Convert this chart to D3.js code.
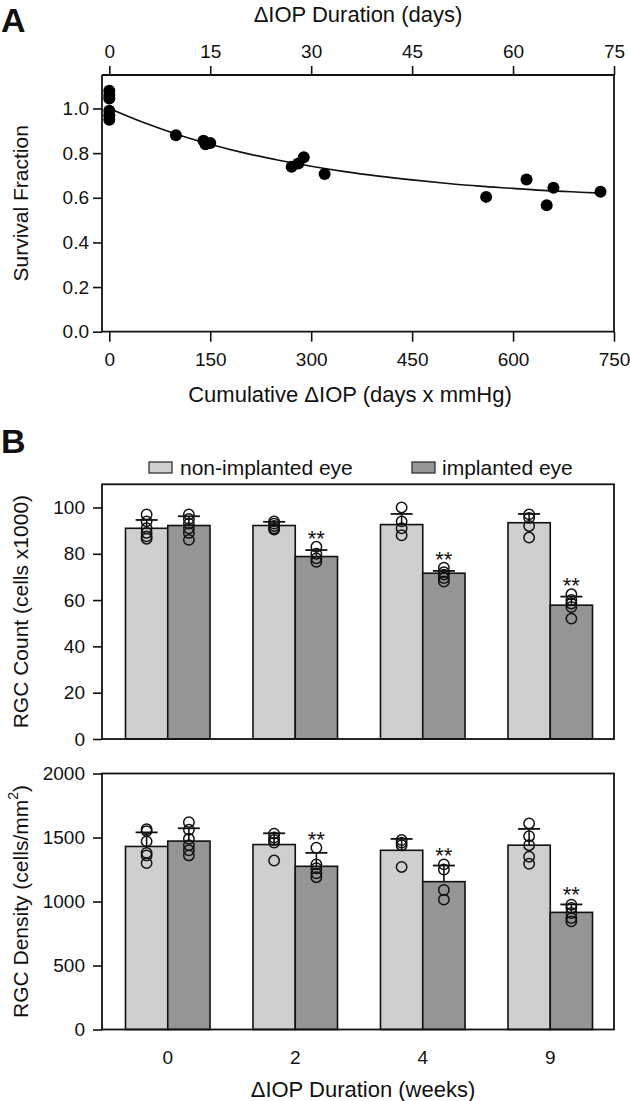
<!DOCTYPE html>
<html><head><meta charset="utf-8">
<script src="https://cdn.jsdelivr.net/npm/d3@7/dist/d3.min.js"></script>
<style>
html,body{margin:0;padding:0;background:#fff;}
svg{display:block;}
text{font-family:"Liberation Sans",Arial,sans-serif;fill:#111;}
</style></head>
<body>
<svg id="c" width="630" height="1101"></svg>
<script>
// ---------- Panel A data ----------
const survX = [0,0,0,0,0,0, 99, 140,143,150, 271,281,289,320, 560,620,650,660,730];
const survY = [1.08,1.06,1.045,0.99,0.97,0.95, 0.88, 0.855,0.84,0.845, 0.739,0.754,0.781,0.707, 0.604,0.682,0.567,0.645,0.627];
const fitX = [0,50,100,150,200,250,300,350,400,450,500,550,600,650,700,730];
const fitY = [1.0,0.938,0.885,0.840,0.801,0.769,0.741,0.717,0.697,0.680,0.665,0.652,0.642,0.632,0.625,0.621];
const xTicksA = [0,150,300,450,600,750];
const topTicksA = [0,15,30,45,60,75];
const yTicksA = [0,0.2,0.4,0.6,0.8,1.0];

// ---------- Panel B data ----------
const weeks = ["0","2","4","9"];
const series = ["non-implanted eye","implanted eye"];
const countMean = {light:[91.0,92.2,92.6,93.4], dark:[92.2,78.8,71.6,57.8]};
const countSD   = {light:[3.6,1.6,4.6,3.8],    dark:[4.0,2.8,1.0,3.7]};
const countPts = {
  light:[[97,94,91,89,87.5,86.5],[94,93,92,91,90.5],[100,94,91,88],[97,95.5,92,87]],
  dark: [[97,95,93,91,89,86],[83,80,78,76.5],[74,72,71,69.5,68],[62.5,60,58.5,57,52]]
};
const densMean = {light:[1430,1445,1400,1440], dark:[1472,1275,1155,915]};
const densSD   = {light:[110,88,89,127],       dark:[100,105,126,62]};
const densPts = {
  light:[[1565,1550,1470,1380,1360,1300],[1530,1500,1480,1460,1320],[1480,1460,1440,1270],[1610,1510,1440,1350,1295]],
  dark: [[1620,1560,1490,1440,1400,1360],[1420,1290,1260,1220,1190],[1290,1250,1090,1015],[975,950,910,870,845]]
};
const signif = [false,true,true,true];
const countTicks = [0,20,40,60,80,100];
const densTicks = [0,500,1000,1500,2000];

const svg = d3.select("#c");
const FS_T = 19, FS_Y = 21, FS_X = 22;
const col = {light:"#cfcfcf", dark:"#959595"};

// ================= Panel A =================
const A = {l:102, r:614, t:75, b:331.7, x0:109.3};
const xA = d3.scaleLinear().domain([0,750]).range([A.x0, A.r]);
const xAtop = d3.scaleLinear().domain([0,75]).range([A.x0, A.r]);
const yA = d3.scaleLinear().domain([0,1.15]).range([A.b, A.t]);
const gA = svg.append("g");

function styleAxis(g){
  g.select(".domain").remove();
  g.selectAll(".tick line").attr("stroke","#111").attr("stroke-width",1.6);
  g.selectAll(".tick text").attr("font-size",FS_T).attr("font-family","Liberation Sans, Arial, sans-serif").attr("fill","#111");
}
gA.append("g").attr("transform",`translate(0,${A.b})`)
  .call(d3.axisBottom(xA).tickValues(xTicksA).tickSize(10).tickPadding(11)).call(styleAxis);
gA.append("g").attr("transform",`translate(0,${A.t})`)
  .call(d3.axisTop(xAtop).tickValues(topTicksA).tickSize(9).tickPadding(8)).call(styleAxis);
gA.append("g").attr("transform",`translate(${A.l},0)`)
  .call(d3.axisLeft(yA).tickValues(yTicksA).tickSize(9).tickPadding(4).tickFormat(d3.format(".1f"))).call(styleAxis);
const fr = [[A.l,A.t,A.r,A.t],[A.l,A.b,A.r,A.b],[A.l,A.t,A.l,A.b],[A.r,A.t,A.r,A.b]];
gA.selectAll("line.fr").data(fr).join("line").attr("class","fr")
  .attr("x1",d=>d[0]).attr("y1",d=>d[1]).attr("x2",d=>d[2]).attr("y2",d=>d[3])
  .attr("stroke","#111").attr("stroke-width",1.8);
const fitData = fitX.map((x,i)=>[x,fitY[i]]);
gA.append("path").datum(fitData)
  .attr("d", d3.line().x(d=>xA(d[0])).y(d=>yA(d[1])).curve(d3.curveMonotoneX))
  .attr("fill","none").attr("stroke","#111").attr("stroke-width",1.6);
gA.selectAll("circle.s").data(survX.map((x,i)=>[x,survY[i]])).join("circle")
  .attr("cx",d=>xA(d[0])).attr("cy",d=>yA(d[1])).attr("r",6).attr("fill","#000");
gA.append("text").attr("x",358).attr("y",22).attr("text-anchor","middle").attr("font-size",FS_X)
  .text("\u0394IOP Duration (days)");
gA.append("text").attr("x",350).attr("y",402).attr("text-anchor","middle").attr("font-size",FS_X)
  .text("Cumulative \u0394IOP (days x mmHg)");
gA.append("text").attr("transform",`translate(28,${(A.t+A.b)/2}) rotate(-90)`).attr("text-anchor","middle")
  .attr("font-size",FS_Y).text("Survival Fraction");
svg.append("text").attr("x",1).attr("y",32).attr("font-size",34).attr("font-weight","bold")
  .attr("font-family","Open Sans, Liberation Sans, sans-serif").text("A");

// ================= Panel B =================
svg.append("text").attr("x",1).attr("y",453).attr("font-size",34).attr("font-weight","bold")
  .attr("font-family","Open Sans, Liberation Sans, sans-serif").text("B");
const leg = [{k:"light",x:149,tx:180},{k:"dark",x:412,tx:442}];
leg.forEach((d,i)=>{
  svg.append("rect").attr("x",d.x).attr("y",462).attr("width",23).attr("height",11)
    .attr("fill",col[d.k]).attr("stroke","#333").attr("stroke-width",1.3);
  svg.append("text").attr("x",d.tx).attr("y",474.5).attr("font-size",21).text(series[i]);
});

const B = {l:102, r:614};
const x0 = d3.scaleBand().domain(weeks).range([104,614]).padding(0);
const pairW = x0.bandwidth()*0.663;
const x1 = d3.scaleBand().domain(["light","dark"]).range([-pairW/2, pairW/2]).padding(0);

function barPanel(top, bottom, domainMax, ticks, mean, sd, pts, label, sup){
  const y = d3.scaleLinear().domain([0,domainMax]).range([bottom, top]);
  const g = svg.append("g");
  g.append("g").attr("transform",`translate(${B.l},0)`)
    .call(d3.axisLeft(y).tickValues(ticks).tickSize(9).tickPadding(8).tickFormat(d3.format("d"))).call(styleAxis);
  ["light","dark"].forEach(k=>{
    g.append("g").selectAll("rect").data(weeks).join("rect")
      .attr("x",(w)=>x0(w)+x0.bandwidth()/2+x1(k))
      .attr("width",x1.bandwidth())
      .attr("y",(w,i)=>y(mean[k][i]))
      .attr("height",(w,i)=>y(0)-y(mean[k][i]))
      .attr("fill",col[k]).attr("stroke","#111").attr("stroke-width",1.6);
  });
  ["light","dark"].forEach(k=>{
    weeks.forEach((w,i)=>{
      const cx = x0(w)+x0.bandwidth()/2+x1(k)+x1.bandwidth()/2;
      const capY = y(mean[k][i]+sd[k][i]);
      g.append("line").attr("x1",cx).attr("x2",cx).attr("y1",y(mean[k][i])).attr("y2",capY)
        .attr("stroke","#111").attr("stroke-width",1.6);
      g.append("line").attr("x1",cx-11).attr("x2",cx+11).attr("y1",capY).attr("y2",capY)
        .attr("stroke","#111").attr("stroke-width",1.8);
      g.selectAll(null).data(pts[k][i]).join("circle")
        .attr("cx",cx).attr("cy",v=>y(v)).attr("r",5.2)
        .attr("fill","none").attr("stroke","#111").attr("stroke-width",1.5);
      if(k==="dark" && signif[i]){
        const topPt = y(d3.max(pts[k][i]));
        const sy = Math.min(capY-14, topPt-13);
        g.append("text").attr("x",cx).attr("y",sy+12).attr("text-anchor","middle")
          .attr("font-size",22).text("**");
      }
    });
  });
  g.append("rect").attr("x",B.l).attr("y",top).attr("width",B.r-B.l).attr("height",bottom-top)
    .attr("fill","none").attr("stroke","#111").attr("stroke-width",1.8);
  const yl = g.append("text").attr("transform",`translate(28,${(top+bottom)/2}) rotate(-90)`)
    .attr("text-anchor","middle").attr("font-size",FS_Y).text(label);
  if(sup){ yl.append("tspan").attr("font-size",14).attr("dy",-10).text(sup);
           yl.append("tspan").attr("dy",10).text(")"); }
  return y;
}
barPanel(484.3, 739, 110, countTicks, countMean, countSD, countPts, "RGC Count (cells x1000)");
barPanel(773.5, 1029.5, 2000, densTicks, densMean, densSD, densPts, "RGC Density (cells/mm", "2");

svg.append("g").selectAll("text").data(weeks).join("text")
  .attr("x",w=>x0(w)+x0.bandwidth()/2).attr("y",1064).attr("text-anchor","middle")
  .attr("font-size",FS_T).text(w=>w);
svg.append("text").attr("x",363).attr("y",1097).attr("text-anchor","middle").attr("font-size",FS_X)
  .text("\u0394IOP Duration (weeks)");
</script>
</body></html>
